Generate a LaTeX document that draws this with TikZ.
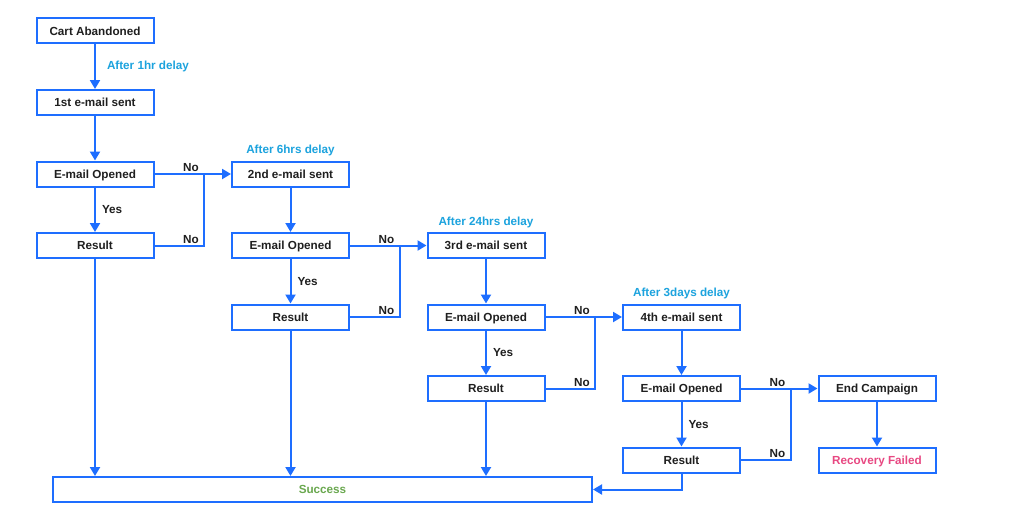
\documentclass[tikz,border=0pt]{standalone}
\usepackage{fontspec}
\setmainfont{Liberation Sans}
\usepackage{xcolor}
\usetikzlibrary{positioning}
\usetikzlibrary{arrows.meta}
\definecolor{flowblue}{RGB}{30,110,255}
\definecolor{delaycyan}{RGB}{28,163,222}
\definecolor{okgreen}{RGB}{106,168,79}
\definecolor{failpink}{RGB}{232,72,130}
\tikzset{flowbox/.style={draw=flowblue, line width=2pt, fill=white,
minimum width=117pt, minimum height=25pt, inner sep=0pt,
text height=8.4pt, text depth=0pt,
font=\fontsize{11.7}{13}\selectfont\bfseries, text=black!88},
flowline/.style={draw=flowblue, line width=2pt, -{Triangle[length=9pt,width=10pt]}},
flowplain/.style={draw=flowblue, line width=2pt}}

\begin{document}
\begin{tikzpicture}[node distance=44.5pt and 76.5pt,
	delay/.style={inner sep=1pt, text=delaycyan, font=\fontsize{11.7}{13}\selectfont\bfseries},
	yesno/.style={inner sep=1pt, text=black!88, font=\fontsize{11.7}{13}\selectfont\bfseries}]

				\useasboundingbox[fill=white] (0,0) rectangle (1024pt,-519pt);

				\node[flowbox] (cart) at (95pt,-31pt) {Cart Abandoned};
				\node[flowbox, below=of cart] (sent1) {1st e-mail sent};
				\node[flowbox, below=of sent1] (open1) {E-mail Opened};
				\node[flowbox, below=of open1] (res1) {Result};

				\node[flowbox, right=of open1] (sent2) {2nd e-mail sent};
				\node[flowbox, below=of sent2] (open2) {E-mail Opened};
				\node[flowbox, below=of open2] (res2) {Result};

				\node[flowbox, right=of open2] (sent3) {3rd e-mail sent};
				\node[flowbox, below=of sent3] (open3) {E-mail Opened};
				\node[flowbox, below=of open3] (res3) {Result};

				\node[flowbox, right=of open3] (sent4) {4th e-mail sent};
				\node[flowbox, below=of sent4] (open4) {E-mail Opened};
				\node[flowbox, below=of open4] (res4) {Result};

				\node[flowbox, right=of open4] (endc) {End Campaign};
				\node[flowbox, below=of endc, text=failpink] (fail) {Recovery Failed};

				\node[flowbox, minimum width=539pt, text=okgreen] (success) at (322.5pt,-489.5pt) {Success};

				\node[delay, above=3pt of sent2] {After 6hrs delay};
				\node[delay, above=3pt of sent3] {After 24hrs delay};
				\node[delay, above=3pt of sent4] {After 3days delay};

				\coordinate (j1) at ([xshift=-27pt]sent2.west);
				\coordinate (j2) at ([xshift=-27pt]sent3.west);
				\coordinate (j3) at ([xshift=-27pt]sent4.west);
				\coordinate (j4) at ([xshift=-27pt]endc.west);
				\coordinate (k1) at (j1 |- res1);
				\coordinate (k2) at (j2 |- res2);
				\coordinate (k3) at (j3 |- res3);
				\coordinate (k4) at (j4 |- res4);

				\draw[flowline] (cart) -- node[delay, right=10pt] {After 1hr delay} (sent1);
				\draw[flowline] (sent1) -- (open1);
				\draw[flowline] (sent2) -- (open2);
				\draw[flowline] (sent3) -- (open3);
				\draw[flowline] (sent4) -- (open4);
				\draw[flowline] (endc) -- (fail);

				\draw[flowline] (open1) -- node[yesno, right=5pt] {Yes} (res1);
				\draw[flowline] (open2) -- node[yesno, right=5pt] {Yes} (res2);
				\draw[flowline] (open3) -- node[yesno, right=5pt] {Yes} (res3);
				\draw[flowline] (open4) -- node[yesno, right=5pt] {Yes} (res4);

				\draw[flowline] (open1) -- (sent2);
				\draw[flowline] (open2) -- (sent3);
				\draw[flowline] (open3) -- (sent4);
				\draw[flowline] (open4) -- (endc);

				\draw[flowplain] (res1) -- (k1) -- (j1);
				\draw[flowplain] (res2) -- (k2) -- (j2);
				\draw[flowplain] (res3) -- (k3) -- (j3);
				\draw[flowplain] (res4) -- (k4) -- (j4);

				\node[yesno, above left=1pt and 4pt of j1] {No};
				\node[yesno, above left=1pt and 4pt of j2] {No};
				\node[yesno, above left=1pt and 4pt of j3] {No};
				\node[yesno, above left=1pt and 4pt of j4] {No};
				\node[yesno, above left=1pt and 4pt of k1] {No};
				\node[yesno, above left=1pt and 4pt of k2] {No};
				\node[yesno, above left=1pt and 4pt of k3] {No};
				\node[yesno, above left=1pt and 4pt of k4] {No};

				\draw[flowline] (res1) -- (res1 |- success.north);
				\draw[flowline] (res2) -- (res2 |- success.north);
				\draw[flowline] (res3) -- (res3 |- success.north);
				\draw[flowline] (res4) |- (success);
			\end{tikzpicture}
\end{document}
